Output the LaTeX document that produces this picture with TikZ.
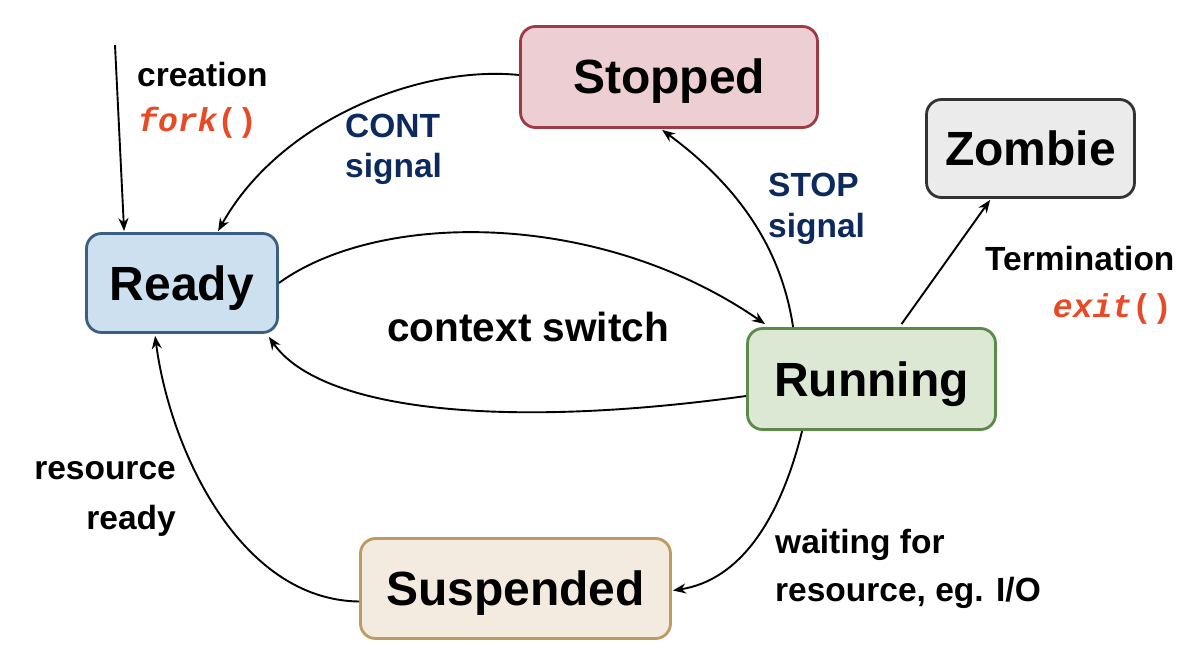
\documentclass[tikz,border=0pt]{standalone}
\usepackage{fontspec}
\setmainfont{Liberation Sans}
\newfontfamily\codefont{Liberation Mono}
\usetikzlibrary{arrows.meta,calc}
\definecolor{stopfill}{HTML}{EDCFD3}
\definecolor{stopdraw}{HTML}{9E3A44}
\definecolor{zomfill}{HTML}{EBEBEB}
\definecolor{zomdraw}{HTML}{333333}
\definecolor{readyfill}{HTML}{CCE0F0}
\definecolor{readydraw}{HTML}{3A5F80}
\definecolor{runfill}{HTML}{DCE8D4}
\definecolor{rundraw}{HTML}{5C8A48}
\definecolor{susfill}{HTML}{F3EAE0}
\definecolor{susdraw}{HTML}{BF9A60}
\definecolor{sigblue}{HTML}{0D2A5F}
\definecolor{codered}{HTML}{E84A27}
\begin{document}
\begin{tikzpicture}[x=1pt,y=-1pt,
  state/.style={draw, line width=2.8pt, rounded corners=15pt, inner sep=0pt,
    text height=34pt, text depth=0pt,
    font=\fontsize{48}{57}\selectfont\bfseries},
  lbl/.style={inner sep=0pt, font=\fontsize{33.5}{40}\selectfont\bfseries},
  sig/.style={lbl, text=sigblue},
  code/.style={inner sep=0pt, text=codered, font=\fontsize{33}{40}\selectfont\codefont\bfseries},
  conn/.style={line width=1.9pt, -{Stealth[length=13pt,width=10pt]}}
]
\useasboundingbox[fill=white] (0,0) rectangle (1188,660);

\node[state, fill=stopfill, draw=stopdraw, minimum width=297pt, minimum height=101pt] (stopped) at (669,77) {Stopped};
\node[state, fill=zomfill, draw=zomdraw, minimum width=208pt, minimum height=98pt] (zombie) at (1030.5,148.5) {Zombie};
\node[state, fill=readyfill, draw=readydraw, minimum width=191pt, minimum height=99pt] (ready) at (182,283) {Ready};
\node[state, fill=runfill, draw=rundraw, minimum width=248pt, minimum height=101pt] (running) at (871.5,379) {Running};
\node[state, fill=susfill, draw=susdraw, minimum width=310pt, minimum height=100pt] (suspended) at (515.5,588.5) {Suspended};

\coordinate (create) at (115,45);

% labels
\node[lbl, anchor=base west] (lcreate) at (137,87) {creation};
\node[code, anchor=base west] (lfork) at (138,132) {\itshape fork\upshape()};
\node[sig, anchor=base west] (lcont1) at (345,138) {CONT};
\node[sig, anchor=base west] (lcont2) at (345,178) {signal};
\node[sig, anchor=base west] (lstop1) at (768,197) {STOP};
\node[sig, anchor=base west] (lstop2) at (768,238) {signal};
\node[lbl, anchor=base west] (lterm) at (985,270) {Termination};
\node[code, anchor=base east] (lexit) at (1172,317) {\itshape exit\upshape()};
\node[inner sep=0pt, anchor=base west, font=\fontsize{40.6}{48}\selectfont\bfseries] (lctx) at (387,341) {context switch};
\node[lbl, anchor=base east] (lres1) at (176,479) {resource};
\node[lbl, anchor=base east] (lres2) at (176,529) {ready};
\node[lbl, anchor=base west] (lwait1) at (775,553) {waiting for};
\node[lbl, anchor=base west] (lwait2) at (775,601) {resource, eg. I/O};

% connectors
\draw[conn] (create) -- ($(ready.north west)+(39,-1)$);
\draw[conn] ($(stopped.west)+(0,-2)$) .. controls (420,65) and (280,120) .. ($(ready.north west)+(133,-1)$);
\draw[conn] (ready.east) .. controls (380,210) and (600,210) .. ($(running.north west)+(19,-3)$);
\draw[conn] ($(running.west)+(0,17)$) .. controls (500,430) and (320,410) .. ($(ready.south east)+(-10,3)$);
\draw[conn] ($(running.north west)+(47,0)$) .. controls (780,240) and (730,180) .. ($(stopped.south west)+(143,1)$);
\draw[conn] ($(running.north)+(30,-3)$) -- ($(zombie.south west)+(65,1)$);
\draw[conn] ($(running.south west)+(56,0)$) .. controls (780,520) and (740,580) .. ($(suspended.east)+(1,2)$);
\draw[conn] ($(suspended.west)+(0,13)$) .. controls (240,600) and (170,450) .. ($(ready.south west)+(70,2)$);
\end{tikzpicture}
\end{document}
